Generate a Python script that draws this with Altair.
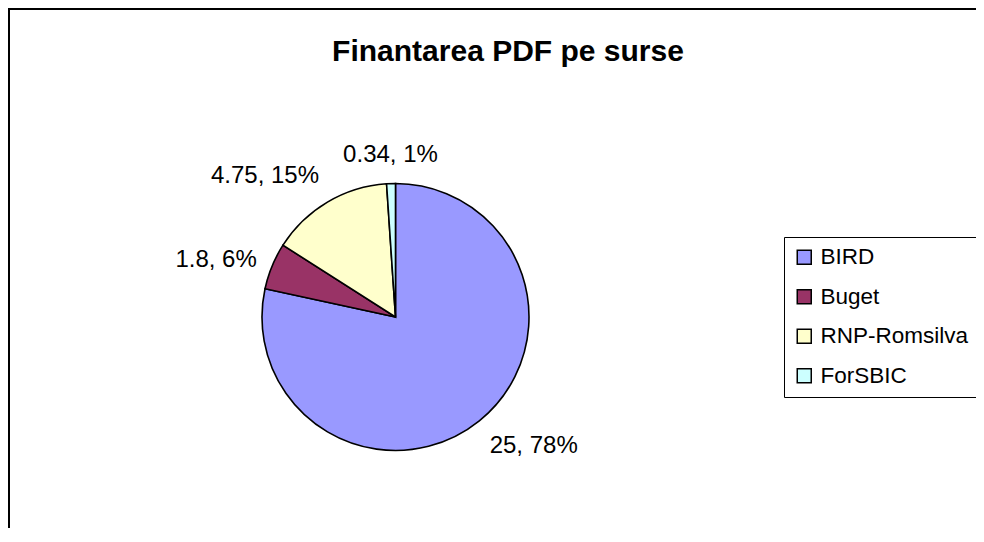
import altair as alt
import numpy as np
import pandas as pd

categories = ["BIRD", "Buget", "RNP-Romsilva", "ForSBIC"]
values = [25, 1.8, 4.75, 0.34]
percents = ["78%", "6%", "15%", "1%"]
colors = ["#9999FF", "#993366", "#FFFFCC", "#CCFFFF"]

vals = np.array(values, dtype=float)
frac_end = np.cumsum(vals) / vals.sum()
frac_mid = frac_end - vals / vals.sum() / 2
ang = frac_mid * 2 * np.pi

df = pd.DataFrame({
    "sursa": categories,
    "valoare": values,
    "ord": list(range(len(categories))),
    "label": [f"{v:g}, {p}" for v, p in zip(values, percents)],
    "s": np.sin(ang),
    "c": np.cos(ang),
})

W, H = 968, 520
CX, CY, R = 387.5, 309, 133.5
FONT = "Liberation Sans"

base = alt.Chart(df).encode(
    theta=alt.Theta("valoare:Q", stack=True),
    order=alt.Order("ord:Q"),
)

pie = base.mark_arc(stroke="black", strokeWidth=1.6, outerRadius=R, x=CX, y=CY).encode(
    color=alt.Color(
        "sursa:N",
        sort=categories,
        scale=alt.Scale(domain=categories, range=colors),
        legend=alt.Legend(
            title=None, orient="none", legendX=776, legendY=229,
            strokeColor="black", fillColor="white", padding=9,
            symbolType="square", symbolSize=196, symbolStrokeColor="black",
            symbolStrokeWidth=1.5, labelFontSize=22.5, labelFont=FONT,
            labelColor="black", rowPadding=16.5, labelOffset=5,
        ),
    )
)

labels = base.mark_text(
    radius=150, x=CX, y=CY, fontSize=24, font=FONT, color="black",
    align={"expr": "datum.s > 0.3 ? 'left' : (datum.s < -0.3 ? 'right' : 'center')"},
    baseline={"expr": "datum.c > 0.5 ? 'bottom' : (datum.c < -0.5 ? 'top' : 'middle')"},
).encode(text="label:N")

frame_df = pd.DataFrame({"k": [0]})
left_rule = alt.Chart(frame_df).mark_rule(color="black", strokeWidth=2).encode(
    x=alt.value(1), y=alt.value(0), y2=alt.value(H)
)
top_rule = alt.Chart(frame_df).mark_rule(color="black", strokeWidth=2).encode(
    x=alt.value(0), x2=alt.value(W), y=alt.value(1)
)

chart = alt.layer(left_rule, top_rule, pie, labels).properties(
    width=W, height=H,
    padding=0,
    autosize=alt.AutoSizeParams(type="none"),
    title=alt.TitleParams(
        "Finantarea PDF pe surse", fontSize=30, font=FONT, fontWeight="bold",
        anchor="middle", offset=-60, dx=16, frame="group", color="black",
    ),
).configure_view(stroke=None).configure(background="white")

chart.save("out.html", embed_options={"renderer": "svg", "actions": False})
